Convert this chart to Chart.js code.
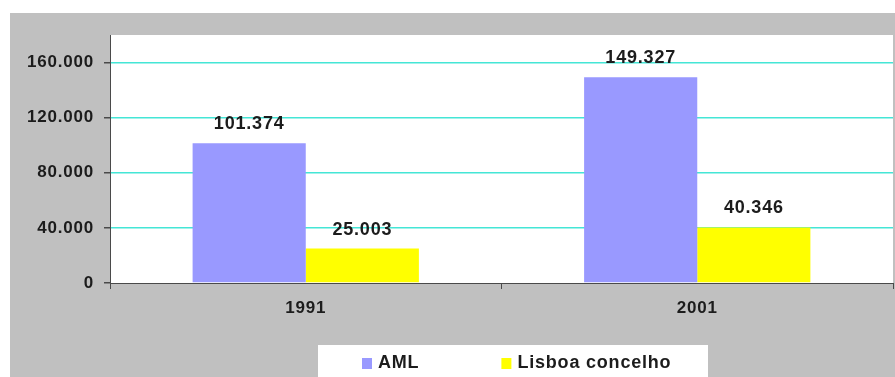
<!DOCTYPE html>
<html>
<head>
<meta charset="utf-8">
<script src="https://cdn.jsdelivr.net/npm/chart.js@4"></script>
<style>
  html, body { margin: 0; padding: 0; background: #ffffff; }
  #c { display: block; }
</style>
</head>
<body>
<canvas id="c" width="895" height="377"></canvas>
<script>
// Categories, series and tick values
const years = ['1991', '2001'];
const amlValues = [101374, 149327];
const lisboaValues = [25003, 40346];
const seriesNames = ['AML', 'Lisboa concelho'];
const yTickValues = [0, 40000, 80000, 120000, 160000];

const FONT = "'Liberation Sans', Arial, Helvetica, sans-serif";
const TEXT = '#1c1c1c';
const AXIS = '#4a4a4a';
const GRID = '#44e6d6';
const SPACING = '0.8px';

// Portuguese thousands separator: 101374 -> "101.374"
function fmt(v) {
  return String(Math.round(v)).replace(/\B(?=(\d{3})+(?!\d))/g, '.');
}

// Gray frame behind the chart and white plot area
const backdrop = {
  id: 'backdrop',
  beforeDraw(chart) {
    const ctx = chart.ctx;
    const a = chart.chartArea;
    ctx.save();
    ctx.fillStyle = '#ffffff';
    ctx.fillRect(0, 0, chart.width, chart.height);
    ctx.fillStyle = '#c0c0c0';
    ctx.fillRect(10, 13, chart.width - 10, chart.height - 13);
    ctx.fillStyle = '#ffffff';
    ctx.fillRect(a.left, a.top, a.right - a.left, a.bottom - a.top);
    ctx.restore();
    // slightly wider lettering for all axis text
    ctx.letterSpacing = SPACING;
  }
};

// Value labels above each bar
const valueLabels = {
  id: 'valueLabels',
  afterDatasetsDraw(chart) {
    const ctx = chart.ctx;
    ctx.save();
    ctx.letterSpacing = SPACING;
    ctx.font = 'bold 18px ' + FONT;
    ctx.fillStyle = TEXT;
    ctx.textAlign = 'center';
    ctx.textBaseline = 'middle';
    chart.data.datasets.forEach((ds, i) => {
      chart.getDatasetMeta(i).data.forEach((bar, j) => {
        ctx.fillText(fmt(ds.data[j]), bar.x, bar.y - 19);
      });
    });
    ctx.restore();
  }
};

// Legend in a white box below the axis
const boxLegend = {
  id: 'boxLegend',
  afterDraw(chart) {
    const ctx = chart.ctx;
    const boxX = 318, boxY = 345, boxW = 390, boxH = 40;
    ctx.save();
    ctx.letterSpacing = SPACING;
    ctx.fillStyle = '#ffffff';
    ctx.fillRect(boxX, boxY, boxW, boxH);
    ctx.font = 'bold 18px ' + FONT;
    ctx.textBaseline = 'middle';
    ctx.textAlign = 'left';
    let x = boxX + 44;
    const cy = 363;
    chart.data.datasets.forEach((ds) => {
      ctx.fillStyle = ds.backgroundColor;
      ctx.fillRect(x, cy - 5, 10, 11);
      ctx.fillStyle = TEXT;
      ctx.fillText(ds.label, x + 16, cy);
      x += 16 + ctx.measureText(ds.label).width + 82;
    });
    ctx.restore();
  }
};

new Chart(document.getElementById('c'), {
  type: 'bar',
  data: {
    labels: years,
    datasets: [
      { label: seriesNames[0], data: amlValues, backgroundColor: '#9999ff' },
      { label: seriesNames[1], data: lisboaValues, backgroundColor: '#ffff00' }
    ]
  },
  options: {
    responsive: false,
    animation: false,
    devicePixelRatio: 1,
    layout: { padding: { left: 0, right: 2, top: 35, bottom: 44 } },
    datasets: { bar: { barPercentage: 1.0, categoryPercentage: 0.578 } },
    plugins: {
      legend: { display: false },
      tooltip: { enabled: false }
    },
    scales: {
      x: {
        afterFit(scale) { scale.height = 50; },
        border: { display: true, color: AXIS, width: 1 },
        grid: {
          display: true,
          offset: true,
          drawOnChartArea: false,
          drawTicks: true,
          tickLength: 6,
          tickColor: AXIS
        },
        ticks: {
          color: TEXT,
          padding: 9,
          font: { family: FONT, size: 17, weight: 'bold' }
        }
      },
      y: {
        min: 0,
        max: 180000,
        afterFit(scale) { scale.width = 110; },
        afterBuildTicks(scale) {
          scale.ticks = yTickValues.map(v => ({ value: v }));
        },
        border: { display: true, color: AXIS, width: 1 },
        grid: {
          color: (c) => (c.tick && c.tick.value === 0 ? 'rgba(0,0,0,0)' : GRID),
          lineWidth: 1.5,
          drawTicks: true,
          tickLength: 6,
          tickColor: AXIS
        },
        ticks: {
          color: TEXT,
          padding: 10,
          font: { family: FONT, size: 17, weight: 'bold' },
          callback: (v) => fmt(v)
        }
      }
    }
  },
  plugins: [backdrop, valueLabels, boxLegend]
});
</script>
</body>
</html>
